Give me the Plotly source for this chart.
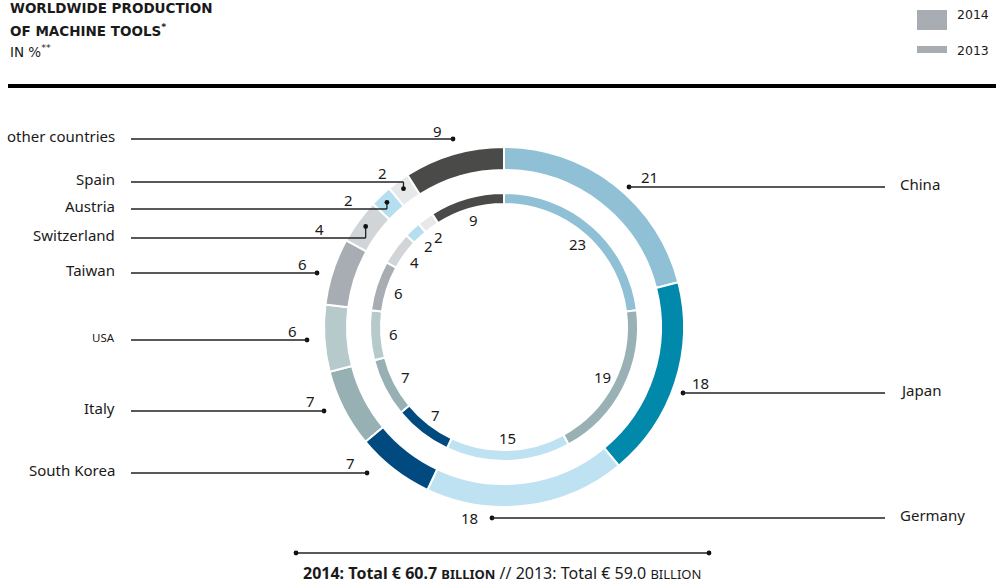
import math
import plotly.graph_objects as go

# ---- data -------------------------------------------------------------
countries = ["China", "Japan", "Germany", "South Korea", "Italy", "USA",
             "Taiwan", "Switzerland", "Austria", "Spain", "other countries"]
share_2014 = [21, 18, 18, 7, 7, 6, 6, 4, 2, 2, 9]
share_2013 = [23, 19, 15, 7, 7, 6, 6, 4, 2, 2, 9]
total_2014 = "60.7"
total_2013 = "59.0"
years = ["2014", "2013"]

# ---- styling ----------------------------------------------------------
colors_2014 = ["#8fc0d6", "#0089ab", "#bee2f1", "#004a7f", "#97b0b3", "#b6cacc",
               "#a7adb3", "#d2d5d8", "#b5def0", "#e6e8ea", "#4a4a48"]
colors_2013 = ["#8fc0d6", "#99b1b5", "#bee2f1", "#004a7f", "#97b0b3", "#b6cacc",
               "#a7adb3", "#d2d5d8", "#b5def0", "#e6e8ea", "#4a4a48"]

W, H = 1001, 583
CX, CY = 504, 327                  # ring centre in pixels
R_OUT, R_OUT_HOLE = 180, 157       # 2014 ring
R_IN, R_IN_HOLE = 134, 123         # 2013 ring
FONT = "Noto Sans"
HEAD_FONT = "DejaVu Sans"
INK = "#1a1a1a"

# callout rows: side, row y, dot x (None -> dot sits inside the ring), number offset
callouts = {
    "China":           ("right", 187, 629, 20, -10),
    "Japan":           ("right", 393, 683, 17, -10),
    "Germany":         ("right", 518, 492, -23, 0),
    "South Korea":     ("left", 473, 367, -17, -10),
    "Italy":           ("left", 411, 324, -14, -10),
    "USA":             ("left", 340, 307, -15, -9),
    "Taiwan":          ("left", 273, 317, -15, -9),
    "Switzerland":     ("left", 238, None, -46, -9),
    "Austria":         ("left", 209, None, -38, -9),
    "Spain":           ("left", 182, None, -21, -9),
    "other countries": ("left", 139, 453, -16, -8),
}


def domain(r):
    return dict(x=[(CX - r) / W, (CX + r) / W],
                y=[(H - CY - r) / H, (H - CY + r) / H])


def mid_angles(values):
    out, acc, tot = [], 0.0, float(sum(values))
    for v in values:
        out.append(2 * math.pi * (acc + v / 2) / tot)
        acc += v
    return out


def polar(angle, r):
    # angle measured clockwise from 12 o'clock
    return CX + r * math.sin(angle), CY - r * math.cos(angle)


fig = go.Figure()

fig.add_trace(go.Pie(
    labels=countries, values=share_2014, name=years[0], sort=False,
    direction="clockwise", rotation=0, hole=R_OUT_HOLE / R_OUT,
    domain=domain(R_OUT), textinfo="none", showlegend=False,
    marker=dict(colors=colors_2014, line=dict(color="white", width=2)),
))
fig.add_trace(go.Pie(
    labels=countries, values=share_2013, name=years[1], sort=False,
    direction="clockwise", rotation=0, hole=R_IN_HOLE / R_IN,
    domain=domain(R_IN), textinfo="none", showlegend=False,
    marker=dict(colors=colors_2013, line=dict(color="white", width=2)),
))

shapes, annotations = [], []


def text(x, y, s, size=15, xanchor="center", yanchor="middle", color=INK, family=FONT):
    annotations.append(dict(x=x, y=y, xref="x", yref="y", text=s, showarrow=False,
                            xanchor=xanchor, yanchor=yanchor,
                            font=dict(family=family, size=size, color=color)))


def line(x0, y0, x1, y1, width=1.3, color="#222"):
    shapes.append(dict(type="line", xref="x", yref="y", x0=x0, y0=y0, x1=x1, y1=y1,
                       line=dict(color=color, width=width), layer="above"))


def dot(x, y, r=2.4):
    shapes.append(dict(type="circle", xref="x", yref="y", x0=x - r, x1=x + r,
                       y0=y - r, y1=y + r, fillcolor="#111", line=dict(width=0),
                       layer="above"))


# 2013 values written inside the inner ring
for name, val, ang in zip(countries, share_2013, mid_angles(share_2013)):
    x, y = polar(ang, 111)
    text(x, y, str(val))

# 2014 callouts with leader lines
for name, val, ang in zip(countries, share_2014, mid_angles(share_2014)):
    side, ry, ax, ndx, ndy = callouts[name]
    if ax is None:
        dx, dy = polar(ang, 171)
        line(dx, dy, dx, ry)
        elbow_x = dx
    else:
        dx, dy = ax, ry
        elbow_x = ax
    dot(dx, dy)
    if side == "left":
        line(131, ry, elbow_x, ry)
        if name == "USA":
            text(117, ry - 3, name, size=11.5, xanchor="right")
        else:
            text(117, ry - 3, name, xanchor="right")
    else:
        line(elbow_x, ry, 885, ry)
        text(898, ry - 3, name, xanchor="left")
    text(elbow_x + ndx, ry + ndy, str(val))

# heading
text(8, 8, "<b>WORLDWIDE PRODUCTION</b>", size=13.5, xanchor="left", family=HEAD_FONT)
text(8, 30, "<b>OF MACHINE TOOLS<sup>*</sup></b>", size=13.5, xanchor="left", family=HEAD_FONT)
text(8, 51, "IN %<sup>**</sup>", size=13.5, xanchor="left", family=HEAD_FONT)

# year key
shapes.append(dict(type="rect", xref="x", yref="y", x0=917, x1=947, y0=10, y1=30,
                   fillcolor="#a7adb3", line=dict(width=0)))
shapes.append(dict(type="rect", xref="x", yref="y", x0=917, x1=947, y0=46, y1=53,
                   fillcolor="#a7adb3", line=dict(width=0)))
text(955, 14, years[0], size=12.5, xanchor="left", family=HEAD_FONT)
text(955, 50, years[1], size=12.5, xanchor="left", family=HEAD_FONT)

# rule under heading
line(8, 86, 996, 86, width=4, color="#000")

# totals
line(296, 553, 709, 553, width=1.3)
dot(296, 553)
dot(709, 553)
text(502, 573,
     f"<b>{years[0]}: Total € {total_2014} <span style='font-size:13px'>BILLION</span></b>"
     f" // {years[1]}: Total € {total_2013} <span style='font-size:13px'>BILLION</span>",
     size=16)

fig.update_layout(
    width=W, height=H, margin=dict(l=0, r=0, t=0, b=0),
    paper_bgcolor="white", plot_bgcolor="white",
    xaxis=dict(range=[0, W], visible=False, fixedrange=True, domain=[0, 1]),
    yaxis=dict(range=[H, 0], visible=False, fixedrange=True, domain=[0, 1]),
    shapes=shapes, annotations=annotations, showlegend=False,
    hovermode=False,
)

fig.write_html("out.html")
